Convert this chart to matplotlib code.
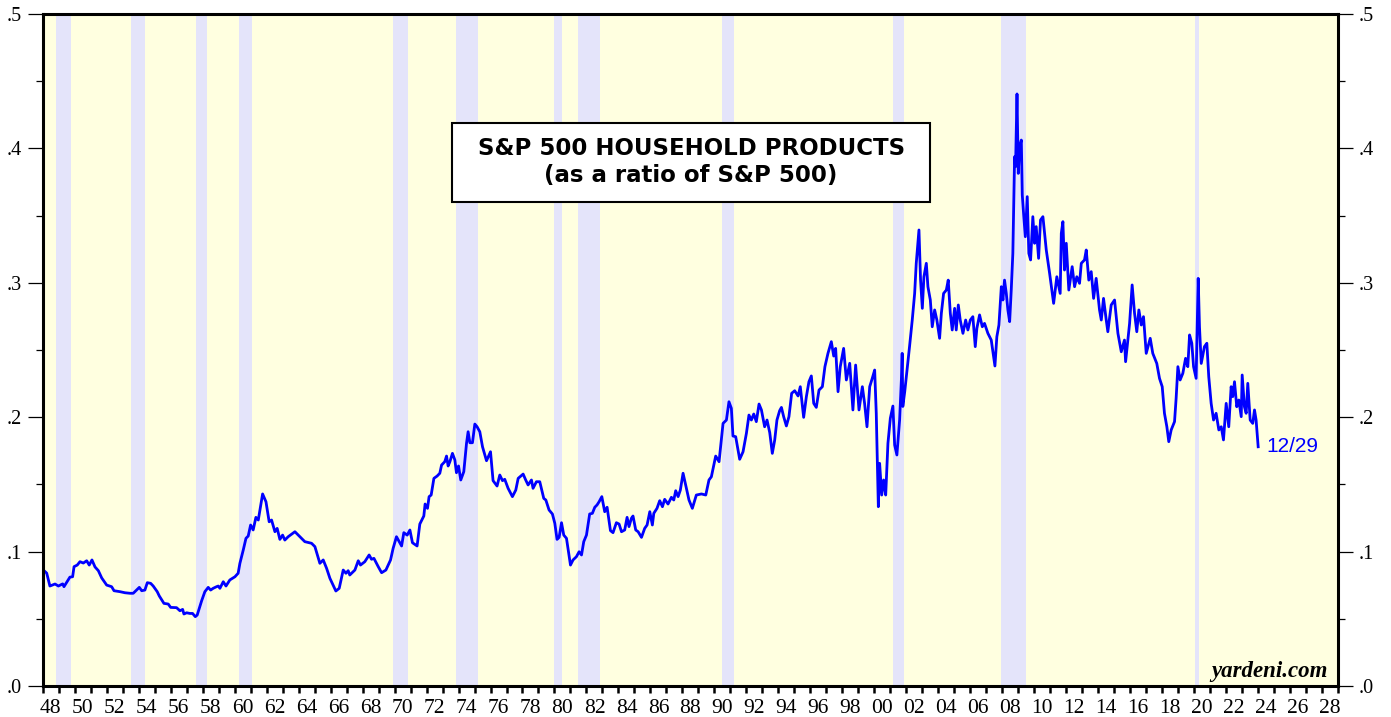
import numpy as np
import matplotlib.pyplot as plt
from matplotlib.patches import Rectangle

# ---- data (decimal year, ratio) ----
years = [
    1948.04, 1948.25, 1948.45, 1948.77, 1948.98, 1949.25, 1949.33, 1949.70, 1949.87, 1949.96,
    1950.16, 1950.33, 1950.54, 1950.75, 1950.91, 1951.08, 1951.27, 1951.48, 1951.69, 1952.00,
    1952.31, 1952.46, 1952.83, 1953.14, 1953.46, 1953.66, 1953.87, 1954.04, 1954.19, 1954.39,
    1954.54, 1954.75, 1954.91, 1955.16, 1955.29, 1955.58, 1955.85, 1956.00, 1956.37, 1956.58,
    1956.75, 1956.83, 1957.00, 1957.20, 1957.37, 1957.54, 1957.66, 1957.94, 1958.14, 1958.35,
    1958.50, 1958.66, 1958.87, 1958.98, 1959.08, 1959.29, 1959.46, 1959.70, 1960.02, 1960.22,
    1960.33, 1960.54, 1960.71, 1960.85, 1961.00, 1961.16, 1961.33, 1961.48, 1961.75, 1961.96,
    1962.16, 1962.31, 1962.52, 1962.66, 1962.83, 1963.00, 1963.14, 1963.35, 1963.77, 1964.08,
    1964.39, 1964.81, 1965.02, 1965.33, 1965.54, 1965.75, 1965.96, 1966.16, 1966.33, 1966.54,
    1966.79, 1966.96, 1967.10, 1967.20, 1967.52, 1967.73, 1967.87,
    1968.14, 1968.41, 1968.56, 1968.71, 1968.98, 1969.19, 1969.46, 1969.75, 1969.91, 1970.12,
    1970.44, 1970.58, 1970.79, 1970.96, 1971.12, 1971.41, 1971.58, 1971.83, 1971.91, 1972.06,
    1972.16, 1972.29, 1972.46, 1972.66, 1972.83, 1972.94, 1973.14, 1973.25, 1973.35, 1973.46,
    1973.62, 1973.77, 1973.87, 1974.00, 1974.14, 1974.33, 1974.50, 1974.60, 1974.71, 1974.87,
    1975.02, 1975.16, 1975.33, 1975.50, 1975.75, 1975.91, 1976.00, 1976.16, 1976.41, 1976.58,
    1976.75, 1976.89, 1977.10, 1977.37, 1977.58, 1977.73, 1978.04, 1978.20, 1978.35, 1978.56,
    1978.66, 1978.87, 1979.08, 1979.33, 1979.46, 1979.66, 1979.87, 1980.02, 1980.16, 1980.29,
    1980.44, 1980.58, 1980.75, 1981.00, 1981.16, 1981.37, 1981.54, 1981.69, 1981.83, 1982.00,
    1982.20, 1982.37, 1982.52, 1982.66, 1982.79, 1982.96, 1983.14, 1983.29, 1983.50, 1983.66,
    1983.87, 1984.04, 1984.19, 1984.39, 1984.54, 1984.66, 1984.81, 1984.91, 1985.08, 1985.23,
    1985.44, 1985.64, 1985.79, 1985.96, 1986.12, 1986.21, 1986.41, 1986.58, 1986.75, 1986.89,
    1987.10, 1987.31, 1987.46, 1987.58, 1987.73, 1987.87,
    1988.04, 1988.29, 1988.41, 1988.62, 1988.87, 1989.19, 1989.46, 1989.66, 1989.81, 1990.08,
    1990.29, 1990.54, 1990.75, 1990.91, 1991.06, 1991.16, 1991.33, 1991.58, 1991.79, 1992.00,
    1992.16, 1992.31, 1992.46, 1992.62, 1992.79, 1992.94, 1993.14, 1993.29, 1993.46, 1993.62,
    1993.77, 1993.91, 1994.08, 1994.19, 1994.33, 1994.50, 1994.66, 1994.83, 1995.02, 1995.23,
    1995.37, 1995.58, 1995.75, 1995.91, 1996.06, 1996.21, 1996.37, 1996.54, 1996.75, 1996.91,
    1997.10, 1997.31, 1997.46, 1997.58, 1997.73, 1997.87, 1998.08, 1998.25, 1998.46, 1998.66,
    1998.83, 1999.04, 1999.25, 1999.39, 1999.54, 1999.71, 1999.87, 2000.02, 2000.12, 2000.25,
    2000.33, 2000.46, 2000.58, 2000.71, 2000.85, 2001.00, 2001.16, 2001.27, 2001.41, 2001.58,
    2001.69, 2001.74, 2001.78, 2001.90, 2002.00,
    2002.20, 2002.37, 2002.52, 2002.62, 2002.79, 2002.89, 2003.00, 2003.10, 2003.25, 2003.35,
    2003.50, 2003.62, 2003.77, 2003.91, 2004.08, 2004.19, 2004.33, 2004.50, 2004.62, 2004.75,
    2004.87, 2005.02, 2005.12, 2005.25, 2005.37, 2005.54, 2005.71, 2005.85, 2006.00, 2006.16,
    2006.31, 2006.41, 2006.58, 2006.75, 2006.89, 2007.10, 2007.31, 2007.46, 2007.54, 2007.66,
    2007.79, 2007.94, 2008.04, 2008.14, 2008.25, 2008.35, 2008.46, 2008.56, 2008.66, 2008.77,
    2008.83, 2008.92, 2009.00, 2009.08, 2009.19, 2009.25, 2009.33, 2009.44, 2009.56, 2009.66,
    2009.77, 2009.91, 2010.02, 2010.12, 2010.27, 2010.39,
    2010.54, 2010.75, 2010.96, 2011.21, 2011.41, 2011.62, 2011.69, 2011.79, 2011.89, 2012.00,
    2012.16, 2012.37, 2012.52, 2012.66, 2012.83, 2012.94, 2013.14, 2013.25, 2013.41, 2013.56,
    2013.71, 2013.87, 2014.08, 2014.19, 2014.33, 2014.50, 2014.60, 2014.81, 2015.02, 2015.23,
    2015.44, 2015.64, 2015.71, 2015.85, 2015.96, 2016.12, 2016.27, 2016.41, 2016.54, 2016.69,
    2016.83, 2017.00, 2017.25, 2017.41, 2017.66, 2017.83, 2018.00, 2018.14, 2018.29, 2018.41,
    2018.56, 2018.77, 2018.87, 2018.98, 2019.12, 2019.29, 2019.46, 2019.60, 2019.71, 2019.85,
    2019.96, 2020.12, 2020.25, 2020.33, 2020.44, 2020.64, 2020.79, 2020.91, 2021.06, 2021.21,
    2021.37, 2021.54, 2021.69, 2021.83, 2022.00, 2022.16, 2022.31, 2022.41, 2022.52, 2022.66,
    2022.79, 2022.94, 2023.00, 2023.14, 2023.25, 2023.35, 2023.50, 2023.66, 2023.77, 2023.87,
    2024.00,
]

ratio = [
    0.0863, 0.0840, 0.0744, 0.0759, 0.0744, 0.0760, 0.0739, 0.0810, 0.0813, 0.0888,
    0.0900, 0.0925, 0.0915, 0.0932, 0.0900, 0.0938, 0.0886, 0.0858, 0.0804, 0.0751,
    0.0739, 0.0709, 0.0702, 0.0694, 0.0690, 0.0690, 0.0714, 0.0734, 0.0709, 0.0714,
    0.0769, 0.0764, 0.0744, 0.0702, 0.0670, 0.0615, 0.0610, 0.0585, 0.0583, 0.0560,
    0.0570, 0.0536, 0.0545, 0.0540, 0.0540, 0.0516, 0.0528, 0.0635, 0.0702, 0.0734,
    0.0714, 0.0727, 0.0739, 0.0744, 0.0727, 0.0776, 0.0744, 0.0789, 0.0813, 0.0839,
    0.0913, 0.1012, 0.1099, 0.1116, 0.1198, 0.1161, 0.1255, 0.1235, 0.1429, 0.1371,
    0.1222, 0.1235, 0.1148, 0.1173, 0.1091, 0.1123, 0.1086, 0.1111, 0.1148, 0.1111,
    0.1074, 0.1062, 0.1037, 0.0913, 0.0938, 0.0876, 0.0801, 0.0751, 0.0707, 0.0727,
    0.0863, 0.0839, 0.0858, 0.0826, 0.0863, 0.0932, 0.0900,
    0.0925, 0.0975, 0.0943, 0.0950, 0.0888, 0.0843, 0.0863, 0.0938, 0.1024, 0.1111,
    0.1042, 0.1141, 0.1123, 0.1161, 0.1066, 0.1042, 0.1205, 0.1265, 0.1354, 0.1322,
    0.1409, 0.1421, 0.1545, 0.1562, 0.1583, 0.1644, 0.1669, 0.1711, 0.1637, 0.1669,
    0.1731, 0.1682, 0.1587, 0.1637, 0.1533, 0.1595, 0.1806, 0.1892, 0.1810, 0.1810,
    0.1949, 0.1929, 0.1892, 0.1780, 0.1676, 0.1719, 0.1743, 0.1528, 0.1488, 0.1570,
    0.1528, 0.1538, 0.1471, 0.1409, 0.1458, 0.1545, 0.1577, 0.1533, 0.1496, 0.1533,
    0.1471, 0.1520, 0.1520, 0.1396, 0.1384, 0.1310, 0.1280, 0.1211, 0.1091, 0.1106,
    0.1215, 0.1123, 0.1099, 0.0900, 0.0938, 0.0962, 0.0999, 0.0975, 0.1074, 0.1123,
    0.1280, 0.1285, 0.1330, 0.1347, 0.1371, 0.1409, 0.1297, 0.1330, 0.1156, 0.1141,
    0.1215, 0.1205, 0.1148, 0.1161, 0.1255, 0.1186, 0.1248, 0.1265, 0.1161, 0.1148,
    0.1106, 0.1173, 0.1198, 0.1297, 0.1198, 0.1285, 0.1322, 0.1379, 0.1334, 0.1389,
    0.1354, 0.1404, 0.1384, 0.1453, 0.1409, 0.1458,
    0.1583, 0.1446, 0.1384, 0.1322, 0.1421, 0.1429, 0.1421, 0.1533, 0.1557, 0.1711,
    0.1669, 0.1954, 0.1979, 0.2115, 0.2066, 0.1860, 0.1855, 0.1687, 0.1743, 0.1880,
    0.2016, 0.1979, 0.2024, 0.1967, 0.2098, 0.2054, 0.1929, 0.1979, 0.1885, 0.1731,
    0.1830, 0.1979, 0.2049, 0.2073, 0.2004, 0.1935, 0.2004, 0.2178, 0.2197, 0.2158,
    0.2227, 0.1999, 0.2153, 0.2264, 0.2307, 0.2103, 0.2073, 0.2202, 0.2227, 0.2376,
    0.2475, 0.2562, 0.2455, 0.2512, 0.2190, 0.2376, 0.2512, 0.2277, 0.2401, 0.2054,
    0.2388, 0.2054, 0.2227, 0.2103, 0.1929, 0.2227, 0.2289, 0.2351, 0.2029, 0.1334,
    0.1657, 0.1421, 0.1533, 0.1421, 0.1806, 0.1992, 0.2083, 0.1793, 0.1719, 0.1979,
    0.2277, 0.2475, 0.2080, 0.2190, 0.2301,
    0.2525, 0.2723, 0.2921, 0.3145, 0.3393, 0.3020, 0.2810, 0.3045, 0.3145, 0.2971,
    0.2872, 0.2673, 0.2798, 0.2723, 0.2587, 0.2773, 0.2921, 0.2946, 0.3020, 0.2773,
    0.2649, 0.2810, 0.2649, 0.2835, 0.2723, 0.2624, 0.2723, 0.2649, 0.2723, 0.2748,
    0.2525, 0.2661, 0.2761, 0.2673, 0.2698, 0.2624, 0.2574, 0.2450, 0.2381, 0.2599,
    0.2686, 0.2971, 0.2872, 0.3020, 0.2921, 0.2798, 0.2711, 0.2946, 0.3219, 0.3938,
    0.3864, 0.4405, 0.3814, 0.4013, 0.4062, 0.3653, 0.3517, 0.3343, 0.3641, 0.3219,
    0.3170, 0.3492, 0.3294, 0.3418, 0.3182, 0.3467,
    0.3492, 0.3244, 0.3070, 0.2847, 0.3045, 0.2921, 0.3368, 0.3455, 0.3095, 0.3294,
    0.2946, 0.3120, 0.2971, 0.3045, 0.2996, 0.3145, 0.3170, 0.3244, 0.3020, 0.3083,
    0.2884, 0.3033, 0.2798, 0.2723, 0.2884, 0.2723, 0.2636, 0.2835, 0.2872, 0.2624,
    0.2487, 0.2574, 0.2413, 0.2574, 0.2698, 0.2984, 0.2773, 0.2636, 0.2798, 0.2686,
    0.2748, 0.2475, 0.2587, 0.2475, 0.2400, 0.2289, 0.2227, 0.2029, 0.1929, 0.1818,
    0.1905, 0.1967, 0.2141, 0.2376, 0.2277, 0.2327, 0.2438, 0.2376, 0.2612, 0.2550,
    0.2376, 0.2289, 0.3033, 0.2673, 0.2400, 0.2525, 0.2550, 0.2301, 0.2103, 0.1979,
    0.2029, 0.1905, 0.1929, 0.1831, 0.2103, 0.1929, 0.2227, 0.2153, 0.2264, 0.2078,
    0.2128, 0.2004, 0.2314, 0.2078, 0.2029, 0.2252, 0.1979, 0.1954, 0.2054, 0.1979,
    0.1780,
]

# recessions (decimal years)
rec_start = [1948.83, 1953.50, 1957.58, 1960.25, 1969.92, 1973.83, 1980.00, 1981.50, 1990.50, 2001.17, 2007.92, 2020.08]
rec_end   = [1949.79, 1954.37, 1958.29, 1961.08, 1970.87, 1975.21, 1980.50, 1982.87, 1991.21, 2001.87, 2009.46, 2020.29]

ytick_vals = [0.0, 0.1, 0.2, 0.3, 0.4, 0.5]
ytick_labels = ['.0', '.1', '.2', '.3', '.4', '.5']
label_years = list(range(1948, 2029, 2))

title_text = "S&P 500 HOUSEHOLD PRODUCTS\n(as a ratio of S&P 500)"
last_date = "12/29"

# ---- figure ----
fig = plt.figure(figsize=(13.91, 7.17), dpi=100)
ax = fig.add_axes([0.0307, 0.0432, 0.9313, 0.9373])
ax.set_facecolor('#FFFFE0')

for s, e in zip(rec_start, rec_end):
    ax.axvspan(s, e, color='#E4E4FA', lw=0, zorder=1)

ax.plot(years, ratio, color='#0000FF', lw=2.0, zorder=3)

ax.set_xlim(1948, 2029)
ax.set_ylim(0, 0.5)

for sp in ax.spines.values():
    sp.set_linewidth(2.2)
    sp.set_zorder(5)

# x axis: tick every year, labels centred between ticks
ax.set_xticks(np.arange(1948, 2030))
ax.set_xticklabels([])
ax.set_xticks([y + 0.5 for y in label_years], minor=True)
ax.set_xticklabels([f"{y % 100:02d}" for y in label_years], minor=True,
                   fontfamily='Liberation Serif', fontsize=15.5)
ax.tick_params(axis='x', which='major', direction='out', length=5, width=1.8, color='black')
ax.tick_params(axis='x', which='minor', length=0, pad=9)

# y axis on both sides
ax.set_yticks(ytick_vals)
ax.set_yticklabels(ytick_labels, fontfamily='Liberation Serif', fontsize=14.5)
ax.set_yticks(np.arange(0.05, 0.5, 0.1), minor=True)
ax.tick_params(axis='y', which='major', direction='out', length=11, width=0.9,
               left=True, right=True, labelleft=True, labelright=True, pad=4)
ax.tick_params(axis='y', which='minor', direction='out', length=5, width=0.9,
               left=True, right=True)

# title box
ax.add_patch(Rectangle((0.316, 0.720), 0.369, 0.118, transform=ax.transAxes,
                       facecolor='white', edgecolor='black', lw=1.5, zorder=6))
ax.text(0.5005, 0.780, title_text, transform=ax.transAxes, ha='center', va='center',
        fontfamily='DejaVu Sans', fontweight='bold', fontsize=16.5,
        linespacing=1.2, zorder=7)

ax.text(2024.5, ratio[-1], last_date, color='#0000FF', ha='left', va='center',
        fontfamily='Liberation Sans', fontsize=15, zorder=7)

ax.text(0.9923, 0.022, "yardeni.com", transform=ax.transAxes, ha='right', va='center',
        fontfamily='Liberation Serif', fontweight='bold', fontstyle='italic', fontsize=16.5,
        zorder=7)

fig.savefig('out.png', dpi=100)
